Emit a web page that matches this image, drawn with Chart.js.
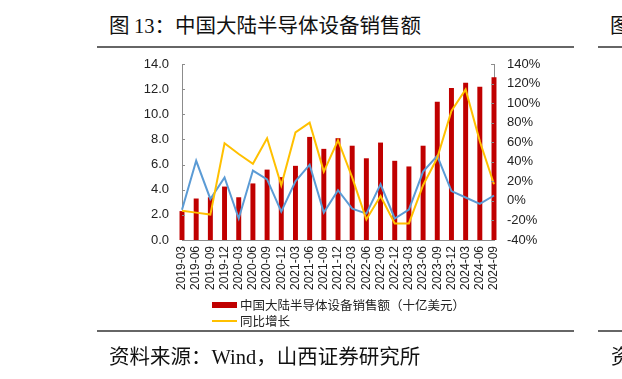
<!DOCTYPE html>
<html>
<head>
<meta charset="utf-8">
<script src="https://cdn.jsdelivr.net/npm/chart.js@4.4.0/dist/chart.umd.min.js"></script>
<style>
  body { margin: 0; width: 622px; height: 379px; overflow: hidden; background: #fff; position: relative; }
  .cjk { font-family: "Noto Sans CJK SC", sans-serif; }
  .serif { font-family: "Liberation Serif", serif; }
  #titulo { position: absolute; left: 109px; top: 12px; font-size: 20.5px; line-height: 24px; color: #111; white-space: nowrap; }
  #fonte { position: absolute; left: 109px; top: 343px; font-size: 20.5px; line-height: 24px; color: #111; white-space: nowrap; }
  .regua { position: absolute; height: 2px; background: #666; }
  .corte { position: absolute; font-size: 20.5px; line-height: 24px; color: #111; }
  #grafico { position: absolute; left: 0; top: 0; }
  .leg { position: absolute; left: 240px; font-size: 12.5px; line-height: 16px; color: #222; white-space: nowrap; }
  .leg-cor { position: absolute; left: 212px; }
</style>
</head>
<body>
<div id="titulo"><span class="cjk">图 </span><span class="serif">13</span><span class="cjk">：中国大陆半导体设备销售额</span></div>
<div class="regua" style="left:97px; top:46px; width:477px;"></div>
<div class="regua" style="left:598px; top:46px; width:24px;"></div>
<div class="corte cjk" style="left:610px; top:12px;">图</div>

<canvas id="grafico" width="622" height="379"></canvas>

<div class="leg-cor" style="top:302px; width:25px; height:6px; background:#C00000;"></div>
<div class="leg cjk" style="top:297px;">中国大陆半导体设备销售额（十亿美元）</div>
<div class="leg-cor" style="top:320px; width:25px; height:2px; background:#FFC000;"></div>
<div class="leg cjk" style="top:313px;">同比增长</div>

<div class="regua" style="left:97px; top:330px; width:477px;"></div>
<div class="regua" style="left:598px; top:330px; width:24px;"></div>
<div id="fonte"><span class="cjk">资料来源：</span><span class="serif">Wind</span><span class="cjk">，山西证券研究所</span></div>
<div class="corte cjk" style="left:611px; top:343px;">资</div>

<script>
// trimestres
var trimestres = ['2019-03', '2019-06', '2019-09', '2019-12', '2020-03', '2020-06', '2020-09', '2020-12',
    '2021-03', '2021-06', '2021-09', '2021-12', '2022-03', '2022-06', '2022-09', '2022-12',
    '2023-03', '2023-06', '2023-09', '2023-12', '2024-03', '2024-06', '2024-09'];

// vendas (十亿美元)
var vendas = [2.3, 3.3, 3.4, 4.25, 3.4, 4.5, 5.6, 5.0, 5.9, 8.2, 7.25, 8.1, 7.5, 6.5, 7.75, 6.3,
    5.85, 7.5, 11.0, 12.1, 12.5, 12.2, 12.95];

// 同比增长 (%)
var anual = [-10, -12, -14, 59, 48, 38, 64, 16, 70, 80, 30, 62, 24, -19, 5, -23,
    -23, 16, 44, 92, 114, 61, 17];

// 环比增长 (%)
var trimestral = [-9, 41, 2, 24, -18, 31, 22, -11, 20, 37, -12, 11, -8, -13, 17, -18,
    -9, 30, 46, 10, 3.5, -3, 5.5];

var corEixo = '#8c8c8c';

// tracinhos para dentro nos eixos y
var tracos = {
    id: 'tracos',
    afterDraw: function (chart) {
        var ctx = chart.ctx;
        var area = chart.chartArea;
        ctx.save();
        ctx.strokeStyle = corEixo;
        ctx.lineWidth = 1;
        chart.scales.y.ticks.forEach(function (t) {
            var py = Math.round(chart.scales.y.getPixelForValue(t.value)) + 0.5;
            ctx.beginPath();
            ctx.moveTo(area.left, py);
            ctx.lineTo(area.left + 3, py);
            ctx.stroke();
        });
        chart.scales.y1.ticks.forEach(function (t) {
            var py = Math.round(chart.scales.y1.getPixelForValue(t.value)) + 0.5;
            ctx.beginPath();
            ctx.moveTo(area.right, py);
            ctx.lineTo(area.right - 3, py);
            ctx.stroke();
        });
        ctx.restore();
    }
};

var graf = document.getElementById('grafico').getContext('2d');

var grafico = new Chart(graf, {
    type: 'bar',
    data: {
        labels: trimestres,
        datasets: [{
            type: 'line',
            label: '同比增长',
            data: anual,
            yAxisID: 'y1',
            borderColor: '#FFC000',
            backgroundColor: '#FFC000',
            borderWidth: 2,
            pointRadius: 0,
            tension: 0,
            order: 1
        }, {
            type: 'line',
            label: '环比增长',
            data: trimestral,
            yAxisID: 'y1',
            borderColor: '#5B9BD5',
            backgroundColor: '#5B9BD5',
            borderWidth: 2,
            pointRadius: 0,
            tension: 0,
            order: 2
        }, {
            type: 'bar',
            label: '中国大陆半导体设备销售额（十亿美元）',
            data: vendas,
            yAxisID: 'y',
            backgroundColor: '#C00000',
            borderWidth: 0,
            barPercentage: 0.35,
            categoryPercentage: 1,
            clip: false,
            order: 3
        }]
    },
    options: {
        responsive: false,
        animation: false,
        plugins: {
            legend: { display: false },
            tooltip: { enabled: false }
        },
        layout: {
            padding: { left: 132, right: 78, top: 64, bottom: 79 }
        },
        scales: {
            x: {
                offset: false,
                grid: { display: false, drawTicks: false },
                border: { display: true, color: corEixo, width: 1 },
                ticks: {
                    autoSkip: false,
                    minRotation: 90,
                    maxRotation: 90,
                    padding: 6,
                    color: '#222',
                    font: { family: 'Liberation Sans', size: 12 }
                },
                afterFit: function (s) { s.height = 60; }
            },
            y: {
                position: 'left',
                min: 0,
                max: 14,
                grid: { display: false, drawTicks: false },
                border: { display: true, color: corEixo, width: 1 },
                ticks: {
                    stepSize: 2,
                    padding: 13,
                    color: '#222',
                    font: { family: 'Liberation Sans', size: 13 },
                    callback: function (v) { return v.toFixed(1); }
                },
                afterFit: function (s) { s.width = 50; }
            },
            y1: {
                position: 'right',
                min: -40,
                max: 140,
                grid: { display: false, drawTicks: false },
                border: { display: true, color: corEixo, width: 1 },
                ticks: {
                    stepSize: 20,
                    padding: 13,
                    color: '#222',
                    font: { family: 'Liberation Sans', size: 13 },
                    callback: function (v) { return v + '%'; }
                },
                afterFit: function (s) { s.width = 50; }
            }
        }
    },
    plugins: [tracos]
});
</script>
</body>
</html>
